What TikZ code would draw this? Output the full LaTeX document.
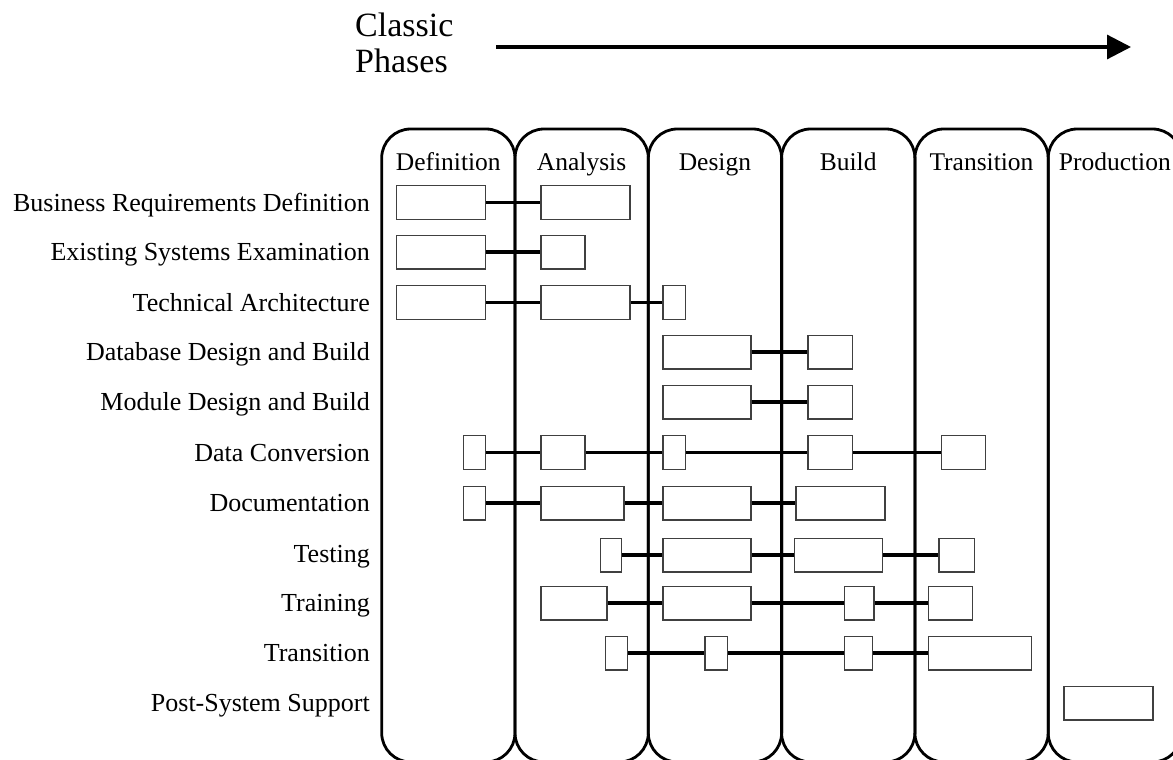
\documentclass[tikz,border=0pt]{standalone}
\usepackage{fontspec}
\setmainfont{Liberation Serif}
\usetikzlibrary{arrows.meta}

\begin{document}
\begin{tikzpicture}[x=1pt,y=-1pt,
  phase/.style={line width=2.8pt, rounded corners=29pt},
  task/.style={draw=black!75, fill=white, line width=1.4pt, inner sep=0pt, minimum height=33.6pt},
  link/.style={line width=3.5pt},
  rowlabel/.style={anchor=base east, inner sep=0pt, font=\fontsize{26}{28}\selectfont},
  colhead/.style={anchor=base, inner sep=0pt, font=\fontsize{25.5}{28}\selectfont},
  heading/.style={anchor=base west, inner sep=0pt, font=\fontsize{34}{36}\selectfont}]
\useasboundingbox (0,0) rectangle (1173,760);
\clip (0,0) rectangle (1173,760);

% title and arrow
\node [heading] (classic) at (355,36.7) {Classic};
\node [heading] (phases) at (355,72.7) {Phases};
\coordinate (arrowtail) at (496,47);
\coordinate (arrowtip) at (1131,47);
\draw [line width=3.2pt, -{Triangle[length=24pt,width=24pt]}] (arrowtail) -- (arrowtip);

% phase columns
\foreach \i in {0,...,5}
  \draw [phase] ({381.7+133.3*\i},129) rectangle ++(133.3,633);
\foreach \n/\t [count=\i from 0] in {hdef/Definition, hana/Analysis, hdes/Design, hbui/Build, htra/Transition, hpro/Production}
  \node [colhead] (\n) at ({448.3+133.3*\i},170) {\t};

% row labels
\node [rowlabel] (lbus) at (370,211.1) {Business Requirements Definition};
\node [rowlabel] (less) at (370,260.6) {Existing Systems Examination};
\node [rowlabel] (ltech) at (370,311.1) {Technical Architecture};
\node [rowlabel] (ldbb) at (370,360.6) {Database Design and Build};
\node [rowlabel] (lmod) at (370,410.6) {Module Design and Build};
\node [rowlabel] (lconv) at (370,461.1) {Data Conversion};
\node [rowlabel] (ldoc) at (370,511.6) {Documentation};
\node [rowlabel] (ltest) at (370,562.6) {Testing};
\node [rowlabel] (ltrain) at (370,611.6) {Training};
\node [rowlabel] (ltrans) at (370,661.6) {Transition};
\node [rowlabel] (lpost) at (370,711.6) {Post-System Support};

% task bars: name/left/right/row
\foreach \n/\l/\r/\y in {bus1/396.7/485.7/202.5, bus2/541/630/202.5,
    ess1/396.7/485.7/252, ess2/541/585/252,
    tech1/396.7/485.7/302.5, tech2/541/630/302.5, tech3/663/685.7/302.5,
    dbb1/663/751/352, dbb2/808/852.3/352,
    mod1/663/751/402, mod2/808/852.3/402,
    conv1/463.3/485.7/452.5, conv2/541/585/452.5, conv3/663/685.7/452.5, conv4/808/852.3/452.5, conv5/941.7/985.7/452.5,
    doc1/463.3/485.7/503, doc2/541/624/503, doc3/663/751/503, doc4/796/885/503,
    test1/600.7/621.7/555, test2/663/751/555, test3/794.7/882.3/555, test4/939/974.7/555,
    train1/541/607/603, train2/663/751/603, train3/844.7/874/603, train4/928.3/972.3/603,
    trans1/605.3/627.7/653, trans2/705/727.3/653, trans3/844.7/872.7/653, trans4/928.3/1031.7/653,
    post1/1064/1153/703}
  \node [task, minimum width=\r-\l] (\n) at ({(\l+\r)/2},\y) {};

% dependencies
\foreach \a/\b in {bus1/bus2, ess1/ess2, tech1/tech2, tech2/tech3, dbb1/dbb2, mod1/mod2,
    conv1/conv2, conv2/conv3, conv3/conv4, conv4/conv5,
    doc1/doc2, doc2/doc3, doc3/doc4,
    test1/test2, test2/test3, test3/test4,
    train1/train2, train2/train3, train3/train4,
    trans1/trans2, trans2/trans3, trans3/trans4}
  \draw [link] (\a.east) -- (\b.west);
\end{tikzpicture}
\end{document}
